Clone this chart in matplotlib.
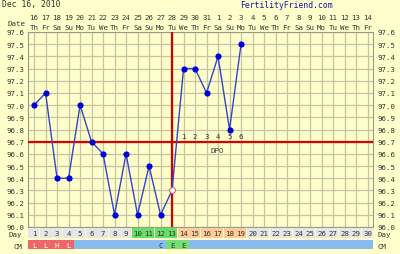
import matplotlib
matplotlib.use("Agg")
import matplotlib.pyplot as plt
from matplotlib.patches import Rectangle
import matplotlib.transforms as mtransforms

plt.rcParams['font.family'] = ['DejaVu Sans Mono']

# chart data
cycle_days = list(range(1, 31))
date_nums = ['16', '17', '18', '19', '20', '21', '22', '23', '24', '25', '26', '27', '28', '29', '30',
             '31', '1', '2', '3', '4', '5', '6', '7', '8', '9', '10', '11', '12', '13', '14']
weekdays = ['Th', 'Fr', 'Sa', 'Su', 'Mo', 'Tu', 'We', 'Th', 'Fr', 'Sa', 'Su', 'Mo', 'Tu', 'We', 'Th',
            'Fr', 'Sa', 'Su', 'Mo', 'Tu', 'We', 'Th', 'Fr', 'Sa', 'Su', 'Mo', 'Tu', 'We', 'Th', 'Fr']
temp_days = list(range(1, 20))
temps = [97.0, 97.1, 96.4, 96.4, 97.0, 96.7, 96.6, 96.1, 96.6, 96.1,
         96.5, 96.1, 96.3, 97.3, 97.3, 97.1, 97.4, 96.8, 97.5]
open_day = 13          # temp marked as open circle
ovulation_day = 13
coverline = 96.7
dpo_days = [14, 15, 16, 17, 18, 19]
dpo_labels = ['1', '2', '3', '4', '5', '6']
y_ticks = [96.0, 96.1, 96.2, 96.3, 96.4, 96.5, 96.6, 96.7, 96.8, 96.9,
           97.0, 97.1, 97.2, 97.3, 97.4, 97.5, 97.6]
cm_days = [1, 2, 3, 4, 12, 13, 14]
cm_codes = ['L', 'L', 'H', 'L', 'C', 'E', 'E']
green_days = [10, 11, 12, 13]
orange_days = [14, 15, 16, 17, 18, 19]

bg = '#ffffcc'
grid_c = '#c4c4a4'
txt = '#333333'
fs = 5.3

fig = plt.figure(figsize=(4.0, 2.55), dpi=100)
fig.patch.set_facecolor(bg)

W, H = 400, 255
left, right = 28.3, 373.3
top, bottom = 33, 228
ax = fig.add_axes([left / W, 1 - bottom / H, (right - left) / W, (bottom - top) / H])
ax.set_facecolor(bg)
ax.set_xlim(0.5, 30.5)
ax.set_ylim(96.0, 97.6)

for d in cycle_days:
    ax.axvline(d, color=grid_c, lw=0.9, zorder=1)
for t in y_ticks:
    ax.axhline(t, color=grid_c, lw=0.9, zorder=1)

ax.axhline(coverline, color='#dd0000', lw=1.6, zorder=3)
ax.axvline(ovulation_day, color='#cc0000', lw=1.6, zorder=3)

ax.plot(temp_days, temps, color='#3344cc', lw=1.0, zorder=4)
fill_d = [d for d in temp_days if d != open_day]
fill_t = [t for d, t in zip(temp_days, temps) if d != open_day]
ax.scatter(fill_d, fill_t, s=20, color='#0000dd', zorder=5, linewidths=0)
ax.scatter([open_day], [temps[temp_days.index(open_day)]], s=18, facecolor='white',
           edgecolor='#cc6677', linewidths=0.8, zorder=5)

for d, lab in zip(dpo_days, dpo_labels):
    ax.text(d, 96.745, lab, fontsize=fs, color=txt, ha='center', va='center', zorder=6)
ax.text(16.9, 96.635, 'DPO', fontsize=fs, color=txt, ha='center', va='center', zorder=6)

ax.set_xticks([])
ax.set_yticks(y_ticks)
ax.set_yticklabels(['%.1f' % t for t in y_ticks])
ax.tick_params(axis='y', length=0, labelsize=fs, labelcolor=txt, labelleft=True,
               labelright=True, pad=3)
for s in ax.spines.values():
    s.set_color('#999988')
    s.set_linewidth(0.8)

# header rows
trans = mtransforms.blended_transform_factory(ax.transData, fig.transFigure)
for d, n, w in zip(cycle_days, date_nums, weekdays):
    ax.text(d, 1 - 18 / H, n, transform=trans, fontsize=fs, color=txt, ha='center', va='center')
    ax.text(d, 1 - 28 / H, w, transform=trans, fontsize=fs, color=txt, ha='center', va='center')
fig.text(26 / W, 1 - 23.5 / H, 'Date', fontsize=fs, color=txt, ha='right', va='center')
fig.text(2 / W, 1 - 5 / H, 'Dec 16, 2010', fontsize=5.8, color=txt, ha='left', va='center')
fig.text(286 / W, 1 - 5 / H, 'FertilityFriend.com', fontsize=5.8, color='#1111aa',
         ha='center', va='center')

# day / CM rows
rows = fig.add_axes([left / W, 1 - 251 / H, (right - left) / W, 22 / H])
rows.set_xlim(0.5, 30.5)
rows.set_ylim(0, 2)
rows.axis('off')
for d in cycle_days:
    if d in green_days:
        c = '#66dd66'
    elif d in orange_days:
        c = '#ffcc99'
    else:
        c = '#e6e6e6'
    rows.add_patch(Rectangle((d - 0.5, 1.05), 0.95, 0.95, facecolor=c, edgecolor='none'))
    rows.text(d, 1.52, str(d), fontsize=fs, color=txt, ha='center', va='center')
    c2 = '#ee6666' if d in cm_days and cm_codes[cm_days.index(d)] in 'LH' else (
        '#77dd77' if d in cm_days and cm_codes[cm_days.index(d)] == 'E' else '#88bbee')
    rows.add_patch(Rectangle((d - 0.5, 0.05), 1.0, 0.85, facecolor=c2, edgecolor='none'))
for d, code in zip(cm_days, cm_codes):
    col = 'white' if code in 'LH' else txt
    rows.text(d, 0.47, code, fontsize=fs, color=col, ha='center', va='center')

fig.text(22 / W, 1 - 235.5 / H, 'Day', fontsize=fs, color=txt, ha='right', va='center')
fig.text(22 / W, 1 - 247 / H, 'CM', fontsize=fs, color=txt, ha='right', va='center')
fig.text(377 / W, 1 - 235.5 / H, 'Day', fontsize=fs, color=txt, ha='left', va='center')
fig.text(377 / W, 1 - 247 / H, 'CM', fontsize=fs, color=txt, ha='left', va='center')

fig.savefig('out.png', dpi=100, facecolor=bg)
